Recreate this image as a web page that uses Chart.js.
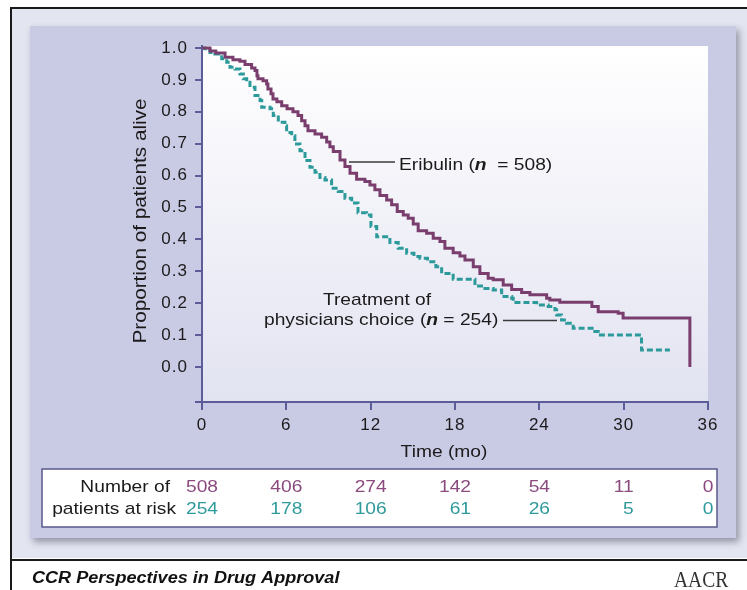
<!DOCTYPE html>
<html>
<head>
<meta charset="utf-8">
<script src="https://cdn.jsdelivr.net/npm/chart.js@4.4.1/dist/chart.umd.min.js"></script>
<style>
  html, body { margin: 0; padding: 0; background: #fff; }
  #chart { display: block; }
</style>
</head>
<body>
<canvas id="chart" width="747" height="590"></canvas>
<script>
// tick labels
const xTicks = [0, 6, 12, 18, 24, 30, 36];
const yTicks = [0, 0.1, 0.2, 0.3, 0.4, 0.5, 0.6, 0.7, 0.8, 0.9, 1.0];

// Kaplan-Meier steps (month of drop, new proportion)
const eribulinMonths = [0, 0.57, 0.98, 1.64, 2.20, 2.70, 3.06, 3.53, 3.77, 3.91, 3.98, 4.34, 4.60, 4.69, 4.91,
  5.05, 5.33, 5.67, 6.05, 6.47, 6.83, 7.09, 7.33, 7.54, 8.04, 8.51, 8.87, 9.10, 9.34, 9.82,
  10.17, 10.53, 11.00, 11.59, 11.95, 12.30, 12.66, 13.14, 13.49, 13.89, 14.32, 14.67, 15.03, 15.38, 15.98,
  16.45, 16.93, 17.28, 17.87, 18.35, 18.71, 19.30, 19.77, 20.36, 20.72, 21.43, 22.03, 22.74, 23.33, 24.52,
  24.75, 25.46, 27.74, 28.19, 29.61, 29.96, 34.71];
const eribulinSurv = [1.0, 0.99, 0.984, 0.971, 0.963, 0.958, 0.948, 0.937, 0.929, 0.913, 0.903, 0.897, 0.887, 0.871, 0.856,
  0.84, 0.831, 0.819, 0.809, 0.8, 0.788, 0.772, 0.756, 0.74, 0.73, 0.72, 0.705, 0.69, 0.675, 0.649,
  0.628, 0.607, 0.588, 0.581, 0.57, 0.555, 0.537, 0.523, 0.508, 0.487, 0.476, 0.466, 0.448, 0.427, 0.419,
  0.403, 0.393, 0.372, 0.358, 0.348, 0.335, 0.314, 0.293, 0.278, 0.273, 0.257, 0.243, 0.233, 0.226, 0.215,
  0.21, 0.203, 0.189, 0.173, 0.168, 0.153, 0.0];

const tpcMonths = [0, 0.21, 0.57, 0.92, 1.40, 1.76, 1.99, 2.35, 2.70, 2.94, 3.18, 3.41, 3.77, 4.13, 4.25,
  4.84, 5.07, 5.43, 5.90, 6.02, 6.38, 6.61, 6.97, 7.33, 7.68, 8.04, 8.39, 8.75, 9.22, 9.69,
  10.17, 10.65, 11.10, 11.71, 12.02, 12.43, 13.37, 13.96, 14.56, 15.08, 15.50, 16.04, 16.64, 17.05, 17.87,
  19.42, 20.13, 20.72, 21.32, 22.03, 22.14, 23.81, 24.63, 25.11, 25.23, 25.58, 25.94, 26.41, 27.95, 28.19,
  31.27, 33.29];
const tpcSurv = [1.0, 0.997, 0.986, 0.981, 0.966, 0.955, 0.939, 0.934, 0.918, 0.903, 0.892, 0.877, 0.851, 0.835, 0.814,
  0.809, 0.788, 0.767, 0.756, 0.735, 0.725, 0.699, 0.678, 0.647, 0.626, 0.61, 0.594, 0.586, 0.56, 0.55,
  0.529, 0.514, 0.483, 0.476, 0.44, 0.408, 0.39, 0.372, 0.356, 0.346, 0.341, 0.33, 0.314, 0.293, 0.275,
  0.254, 0.246, 0.241, 0.221, 0.215, 0.202, 0.194, 0.189, 0.179, 0.163, 0.147, 0.137, 0.121, 0.111, 0.1,
  0.053, 0.053];

// number at risk under each x tick
const riskEribulin = [508, 406, 274, 142, 54, 11, 0];
const riskTpc = [254, 178, 106, 61, 26, 5, 0];

const FONT = "'Liberation Sans', Arial, sans-serif";
const STRETCH = 1.13;
const axisColor = '#5c5c98';
const textColor = '#1c1a1b';
const purple = '#7a3e6e';
const teal = '#2c9a9a';

// text drawn a little wider, like the original figure
function wideText(ctx, str, x, y, font, color, align, sx) {
  sx = sx || STRETCH;
  ctx.save();
  ctx.font = font;
  ctx.fillStyle = color;
  ctx.textBaseline = 'alphabetic';
  ctx.textAlign = 'left';
  const w = ctx.measureText(str).width * sx;
  const x0 = align === 'right' ? x - w : align === 'center' ? x - w / 2 : x;
  ctx.translate(x0, y);
  ctx.scale(sx, 1);
  ctx.fillText(str, 0, 0);
  ctx.restore();
  return w;
}

function textRuns(ctx, parts, x, y, color) {
  let cx = x;
  parts.forEach(p => { cx += wideText(ctx, p[0], cx, y, p[1], color, 'left'); });
}

function leader(ctx, x1, x2, y) {
  ctx.save();
  ctx.strokeStyle = '#3a3a3a';
  ctx.lineWidth = 1.5;
  ctx.beginPath();
  ctx.moveTo(x1, y);
  ctx.lineTo(x2, y);
  ctx.stroke();
  ctx.restore();
}

const framePlugin = {
  id: 'frame',
  beforeDraw(chart) {
    const ctx = chart.ctx, a = chart.chartArea;
    ctx.save();
    ctx.fillStyle = '#fff';
    ctx.fillRect(0, 0, 747, 590);
    ctx.fillStyle = '#e3e5f1';
    ctx.fillRect(12, 9, 735, 549);
    // panel with soft shadow
    ctx.shadowColor = 'rgba(50,50,70,0.45)';
    ctx.shadowBlur = 7;
    ctx.shadowOffsetX = 3;
    ctx.shadowOffsetY = 4;
    ctx.fillStyle = '#c9cae4';
    ctx.fillRect(30, 26, 706, 512);
    ctx.shadowColor = 'transparent';
    // plot area
    const g = ctx.createLinearGradient(0, a.top, 0, a.bottom);
    g.addColorStop(0, '#ffffff');
    g.addColorStop(1, '#e2e3f1');
    ctx.fillStyle = g;
    ctx.fillRect(a.left, a.top, a.right - a.left, a.bottom - a.top);
    // at-risk box
    ctx.fillStyle = '#fff';
    ctx.fillRect(42, 469, 675, 58);
    ctx.strokeStyle = '#5a5a8c';
    ctx.lineWidth = 1.5;
    ctx.strokeRect(42, 469, 675, 58);
    // black rules
    ctx.fillStyle = '#1a1a1a';
    ctx.fillRect(10, 7, 737, 2);
    ctx.fillRect(10, 7, 2, 583);
    ctx.fillRect(10, 559, 737, 2);
    ctx.restore();
    ctx.letterSpacing = '1px';
  },
  afterDraw(chart) {
    const ctx = chart.ctx;
    const xs = chart.scales.x;
    ctx.letterSpacing = '0px';
    const reg = '17px ' + FONT;
    const bi = 'italic bold 17px ' + FONT;

    // y title
    ctx.save();
    ctx.translate(146, 221);
    ctx.rotate(-Math.PI / 2);
    wideText(ctx, 'Proportion of patients alive', 0, 0, '18px ' + FONT, textColor, 'center', 1.15);
    ctx.restore();

    // x title
    wideText(ctx, 'Time (mo)', 444, 457, reg, textColor, 'center');

    // curve labels
    leader(ctx, 349, 395, 162);
    textRuns(ctx, [['Eribulin (', reg], ['n', bi], ['  = 508)', reg]], 399, 170, textColor);
    wideText(ctx, 'Treatment of', 377, 305, reg, textColor, 'center');
    textRuns(ctx, [['physicians choice (', reg], ['n', bi], [' = 254)', reg]], 264, 325, textColor);
    leader(ctx, 503, 557, 320.5);

    // number at risk table
    wideText(ctx, 'Number of', 170, 492, reg, textColor, 'right');
    wideText(ctx, 'patients at risk', 176, 514, reg, textColor, 'right');
    xTicks.forEach((t, i) => {
      const px = xs.getPixelForValue(t);
      ctx.font = reg;
      const w = ctx.measureText(String(riskEribulin[i])).width * STRETCH;
      const right = px + w / 2;
      wideText(ctx, String(riskEribulin[i]), right, 492, reg, '#8b4a7e', 'right');
      wideText(ctx, String(riskTpc[i]), right, 514, reg, '#2f9a9b', 'right');
    });

    // footer
    wideText(ctx, 'CCR Perspectives in Drug Approval', 32, 583, 'italic bold 16px ' + FONT, '#111', 'left');
    wideText(ctx, 'AACR', 674, 587, '23px "Liberation Serif", serif', '#333', 'left', 0.85);
  }
};

const toPoints = (xsArr, ysArr) => xsArr.map((m, i) => ({ x: m, y: ysArr[i] }));

new Chart(document.getElementById('chart').getContext('2d'), {
  type: 'line',
  data: {
    datasets: [{
      label: 'Eribulin',
      data: toPoints(eribulinMonths, eribulinSurv),
      borderColor: purple,
      borderWidth: 3,
      stepped: 'before',
      pointRadius: 0,
      fill: false
    }, {
      label: 'Treatment of physicians choice',
      data: toPoints(tpcMonths, tpcSurv),
      borderColor: teal,
      borderWidth: 3,
      borderDash: [6, 3],
      stepped: 'before',
      pointRadius: 0,
      fill: false
    }]
  },
  options: {
    responsive: false,
    animation: false,
    devicePixelRatio: 1,
    layout: { padding: { left: 0, top: 46, right: 39, bottom: 148 } },
    plugins: { legend: { display: false }, tooltip: { enabled: false } },
    scales: {
      x: {
        type: 'linear',
        min: 0,
        max: 36,
        afterBuildTicks: s => { s.ticks = xTicks.map(v => ({ value: v })); },
        afterFit: s => { s.height = 40; },
        border: { color: axisColor, width: 2 },
        grid: { drawOnChartArea: false, tickLength: 8, color: axisColor, lineWidth: 2 },
        ticks: { font: { family: FONT, size: 17 }, color: textColor, padding: 5, maxRotation: 0, autoSkip: false }
      },
      y: {
        type: 'linear',
        min: -0.11,
        max: 1.006,
        afterBuildTicks: s => { s.ticks = [-0.11].concat(yTicks).map(v => ({ value: v })); },
        afterFit: s => { s.width = 202; },
        border: { color: axisColor, width: 2 },
        grid: { drawOnChartArea: false, tickLength: 7, color: axisColor, lineWidth: 2 },
        ticks: {
          font: { family: FONT, size: 17 },
          color: textColor,
          padding: 7,
          autoSkip: false,
          callback: v => (v < 0 ? '' : v.toFixed(1))
        }
      }
    }
  },
  plugins: [framePlugin]
});
</script>
</body>
</html>
